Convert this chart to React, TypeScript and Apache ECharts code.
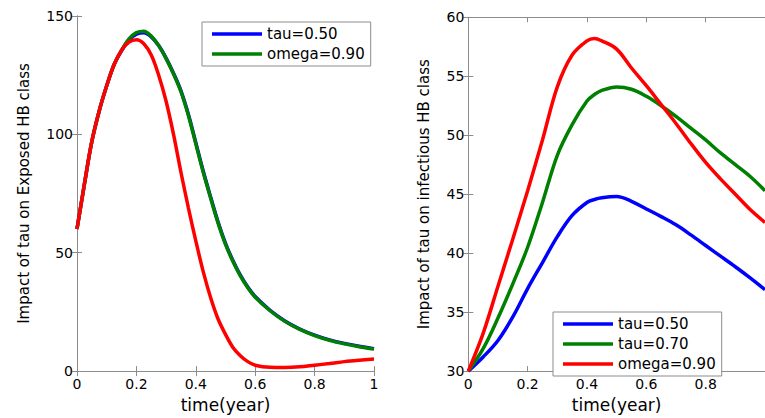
import React, { useEffect, useRef } from "react";
import * as echarts from "echarts";

// ---------- data ----------
const leftTime = [0, 0.025, 0.05, 0.075, 0.1, 0.125, 0.15, 0.175, 0.2, 0.225, 0.25, 0.275, 0.3, 0.325, 0.35, 0.375, 0.4, 0.425, 0.45, 0.475, 0.5, 0.525, 0.55, 0.575, 0.6, 0.65, 0.7, 0.75, 0.8, 0.85, 0.9, 0.95, 1.0];
const leftBlue = [60, 79, 97, 110, 120.5, 129.5, 135.3, 139.8, 142.3, 142.9, 141.2, 137.5, 132.2, 125.8, 118.4, 108.5, 96.5, 84.5, 73.5, 63, 54, 46.7, 40.5, 35.5, 31.5, 25.7, 21.2, 17.8, 15.2, 13.2, 11.7, 10.5, 9.5];
const leftGreen = [60, 79, 97, 110, 120.5, 129.5, 135.5, 140.3, 143, 143.6, 141.5, 137.5, 132, 125.5, 118, 108, 96, 84, 73, 62.5, 53.5, 46.3, 40.2, 35.2, 31.2, 25.5, 21, 17.6, 15, 13, 11.5, 10.3, 9.3];
const leftRed = [60, 79, 97, 110, 120.5, 129.5, 135.5, 139, 140, 138.3, 133.5, 125, 114, 100, 84, 69, 55, 42, 31, 22, 15.5, 10, 6.5, 4, 2.5, 1.6, 1.5, 1.8, 2.5, 3.2, 4, 4.6, 5.1];

const rightTime = [0, 0.05, 0.1, 0.15, 0.2, 0.25, 0.3, 0.35, 0.4, 0.425, 0.45, 0.5, 0.55, 0.6, 0.65, 0.7, 0.75, 0.8, 0.85, 0.9, 0.95, 1.0];
const rightBlue = [30, 31.2, 32.6, 34.6, 37, 39.2, 41.4, 43.2, 44.3, 44.55, 44.7, 44.8, 44.4, 43.75, 43.1, 42.4, 41.55, 40.65, 39.75, 38.85, 37.9, 36.9];
const rightGreen = [30, 31.9, 34.5, 37.4, 40.5, 44.3, 48.3, 50.9, 52.9, 53.45, 53.8, 54.1, 53.9, 53.3, 52.5, 51.6, 50.6, 49.6, 48.5, 47.5, 46.5, 45.3];
const rightRed = [30, 33.2, 37.2, 41.2, 45.3, 49.6, 54.1, 56.8, 58.0, 58.2, 58.0, 57.3, 55.7, 54.2, 52.6, 51, 49.3, 47.7, 46.3, 45, 43.7, 42.6];

const leftNames = ["tau=0.50", "omega=0.90", "omega"];
const leftLegend = ["tau=0.50", "omega=0.90"];
const rightNames = ["tau=0.50", "tau=0.70", "omega=0.90"];
const rightLegend = ["tau=0.50", "tau=0.70", "omega=0.90"];

const xLabel = "time(year)";
const leftYLabel = "Impact of tau on Exposed HB class";
const rightYLabel = "Impact of tau on infectious HB class";

const BLUE = "#0000ff";
const GREEN = "#008000";
const RED = "#ff0000";
const AXIS = "#8c8c8c";
const FONT = "DejaVu Sans";

type Cfg = {
  grid: any;
  yMin: number;
  yMax: number;
  yInterval: number;
  yName: string;
  yNameGap: number;
  time: number[];
  series: { name: string; color: string; values: number[] }[];
  legendData: string[];
  legendPos: { left: number; top: number };
  hideMaxX: boolean;
};

function buildOption(c: Cfg): any {
  const tick = { show: true, inside: true, length: 5, lineStyle: { color: AXIS, width: 1 } };
  const line = { show: true, lineStyle: { color: AXIS, width: 1 } };
  const lbl = { color: "#000", fontFamily: FONT, fontSize: 14 };
  return {
    animation: false,
    backgroundColor: "#fff",
    textStyle: { fontFamily: FONT },
    grid: c.grid,
    legend: {
      data: c.legendData,
      orient: "vertical",
      left: c.legendPos.left,
      top: c.legendPos.top,
      icon: "rect",
      itemWidth: 50,
      itemHeight: 3.5,
      itemGap: 0,
      padding: [2, 6, 2, 10],
      borderColor: AXIS,
      borderWidth: 1,
      backgroundColor: "#fff",
      selectedMode: false,
      textStyle: { fontFamily: FONT, fontSize: 15, color: "#000", lineHeight: 20 },
    },
    xAxis: [
      {
        type: "value",
        min: 0,
        max: 1,
        interval: 0.2,
        position: "bottom",
        axisLine: line,
        axisTick: tick,
        splitLine: { show: false },
        axisLabel: { ...lbl, margin: 6, showMaxLabel: !c.hideMaxX },
        name: xLabel,
        nameLocation: "middle",
        nameGap: 21,
        nameTextStyle: { color: "#000", fontFamily: FONT, fontSize: 17 },
      },
      {
        type: "value",
        min: 0,
        max: 1,
        interval: 0.2,
        position: "top",
        axisLine: line,
        axisTick: tick,
        splitLine: { show: false },
        axisLabel: { show: false },
      },
    ],
    yAxis: [
      {
        type: "value",
        min: c.yMin,
        max: c.yMax,
        interval: c.yInterval,
        position: "left",
        axisLine: line,
        axisTick: tick,
        splitLine: { show: false },
        axisLabel: { ...lbl, margin: 4 },
        name: c.yName,
        nameLocation: "middle",
        nameGap: c.yNameGap,
        nameTextStyle: { color: "#000", fontFamily: FONT, fontSize: 15 },
      },
      {
        type: "value",
        min: c.yMin,
        max: c.yMax,
        interval: c.yInterval,
        position: "right",
        axisLine: line,
        axisTick: tick,
        splitLine: { show: false },
        axisLabel: { show: false },
      },
    ],
    series: c.series.map((s) => ({
      type: "line",
      name: s.name,
      xAxisIndex: 0,
      yAxisIndex: 0,
      showSymbol: false,
      symbol: "none",
      smooth: 0.35,
      color: s.color,
      lineStyle: { color: s.color, width: 3.5 },
      data: c.time.map((t, i) => [t, s.values[i]]),
    })),
  };
}

function Chart({ option, style }: { option: any; style: React.CSSProperties }) {
  const ref = useRef<HTMLDivElement>(null);
  useEffect(() => {
    if (!ref.current) return;
    const chart = echarts.init(ref.current, undefined, { renderer: "svg" });
    chart.setOption(option);
    return () => chart.dispose();
  }, [option]);
  return <div ref={ref} style={style} />;
}

const leftOption = buildOption({
  grid: { left: 77, top: 16, width: 297, bottom: 42.4 },
  yMin: 0,
  yMax: 150,
  yInterval: 50,
  yName: leftYLabel,
  yNameGap: 46,
  time: leftTime,
  series: [
    { name: leftNames[0], color: BLUE, values: leftBlue },
    { name: leftNames[1], color: GREEN, values: leftGreen },
    { name: leftNames[2], color: RED, values: leftRed },
  ],
  legendData: leftLegend,
  legendPos: { left: 202, top: 22 },
  hideMaxX: false,
});

const rightOption = buildOption({
  grid: { left: 78.3, top: 17.3, right: -2, bottom: 42 },
  yMin: 30,
  yMax: 60,
  yInterval: 5,
  yName: rightYLabel,
  yNameGap: 37,
  time: rightTime,
  series: [
    { name: rightNames[0], color: BLUE, values: rightBlue },
    { name: rightNames[1], color: GREEN, values: rightGreen },
    { name: rightNames[2], color: RED, values: rightRed },
  ],
  legendData: rightLegend,
  legendPos: { left: 163, top: 312 },
  hideMaxX: true,
});

export default function App() {
  return (
    <div style={{ position: "fixed", left: 0, top: 0, width: 765, height: 418, background: "#fff", overflow: "hidden" }}>
      <Chart option={leftOption} style={{ position: "absolute", left: 0, top: 0, width: 390, height: 418 }} />
      <Chart option={rightOption} style={{ position: "absolute", left: 390, top: 0, width: 375, height: 418 }} />
    </div>
  );
}
